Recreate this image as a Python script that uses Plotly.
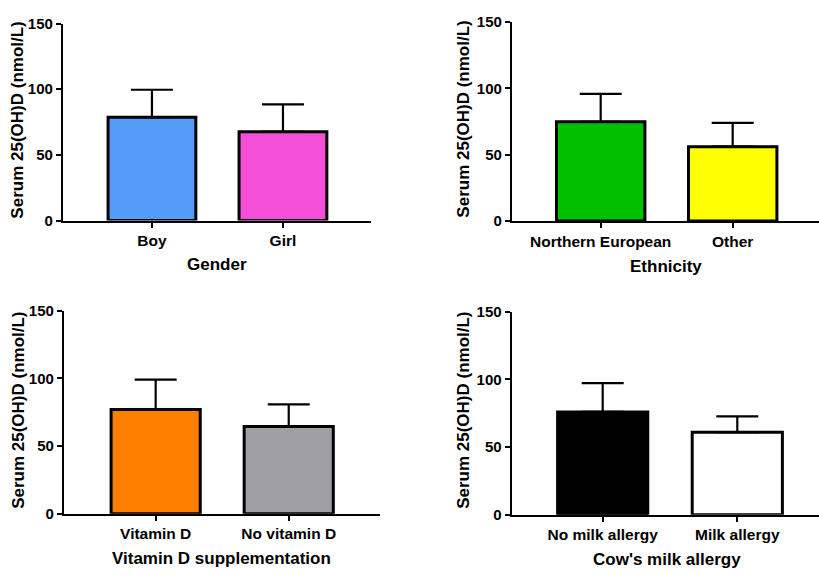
import plotly.graph_objects as go

W, H = 819, 580

# ---- data ----
gender_cats = ["Boy", "Girl"]
gender_means = [78.7, 67.6]
gender_sd = [20.9, 20.9]

ethnicity_cats = ["Northern European", "Other"]
ethnicity_means = [74.9, 56.1]
ethnicity_sd = [21.0, 18.0]

vitd_cats = ["Vitamin D", "No vitamin D"]
vitd_means = [76.9, 64.5]
vitd_sd = [22.2, 16.2]

milk_cats = ["No milk allergy", "Milk allergy"]
milk_means = [75.9, 60.9]
milk_sd = [21.3, 11.7]

y_ticks = [0, 50, 100, 150]
y_title = "Serum 25(OH)D (nmol/L)"

panels = [
    dict(cats=gender_cats, means=gender_means, sd=gender_sd, colors=["#559CF8", "#F44FD8"],
         xtitle="Gender", px=(63, 371), py=(15, 218), xr=(-0.679, 1.672), xt=(217, 263), yt=(18, 115)),
    dict(cats=ethnicity_cats, means=ethnicity_means, sd=ethnicity_sd, colors=["#00C000", "#FFFF00"],
         xtitle="Ethnicity", px=(512, 819), py=(13.5, 218.5), xr=(-0.672, 1.654), xt=(666, 265), yt=(464, 114)),
    dict(cats=vitd_cats, means=vitd_means, sd=vitd_sd, colors=["#FF8000", "#A0A0A4"],
         xtitle="Vitamin D supplementation", px=(64, 380), py=(310.7, 520), xr=(-0.689, 1.686), xt=(222, 566), yt=(19, 414)),
    dict(cats=milk_cats, means=milk_means, sd=milk_sd, colors=["#000000", "#FFFFFF"],
         xtitle="Cow's milk allergy", px=(511.7, 819), py=(311.7, 521), xr=(-0.676, 1.607), xt=(667, 567), yt=(464, 414)),
]

FONT = "Liberation Sans, Arial, sans-serif"

fig = go.Figure()
layout = dict(
    width=W, height=H, margin=dict(l=0, r=0, t=0, b=0),
    paper_bgcolor="white", plot_bgcolor="white", showlegend=False,
    font=dict(family=FONT, color="black", size=15, weight="bold"),
    annotations=[],
)

for i, p in enumerate(panels):
    n = i + 1
    xa = "x" if n == 1 else f"x{n}"
    ya = "y" if n == 1 else f"y{n}"
    fig.add_trace(go.Bar(
        x=list(range(len(p["cats"]))), y=p["means"],
        xaxis=xa, yaxis=ya, width=0.67,
        marker=dict(color=p["colors"], line=dict(color="black", width=3)),
        error_y=dict(type="data", array=p["sd"], symmetric=False,
                     arrayminus=[0] * len(p["sd"]), color="black", thickness=2.2, width=21),
        hoverinfo="skip",
    ))
    xd = [p["px"][0] / W, min(p["px"][1] / W, 1.0)]
    yd = [1 - p["py"][1] / H, 1 - p["py"][0] / H]
    layout[f"xaxis{'' if n == 1 else n}"] = dict(
        domain=xd, anchor=ya, range=list(p["xr"]),
        tickmode="array", tickvals=list(range(len(p["cats"]))), ticktext=p["cats"],
        showline=True, linecolor="black", linewidth=2.2, ticks="outside", ticklen=5,
        tickwidth=2, tickcolor="black", showgrid=False, zeroline=False,
        tickfont=dict(family=FONT, size=15.5, weight="bold"), fixedrange=True,
    )
    layout[f"yaxis{'' if n == 1 else n}"] = dict(
        domain=yd, anchor=xa, range=[0, 150], tickvals=y_ticks,
        showline=True, linecolor="black", linewidth=2.2, ticks="outside", ticklen=5,
        tickwidth=2, tickcolor="black", showgrid=False, zeroline=False,
        tickfont=dict(family=FONT, size=15, weight="bold"), fixedrange=True,
    )
    layout["annotations"].append(dict(
        text=p["xtitle"], xref="paper", yref="paper",
        x=p["xt"][0] / W, y=1 - p["xt"][1] / H, xanchor="center", yanchor="middle",
        showarrow=False, font=dict(family=FONT, size=17, weight="bold"),
    ))
    layout["annotations"].append(dict(
        text=y_title, xref="paper", yref="paper", textangle=-90,
        x=p["yt"][0] / W, y=1 - p["yt"][1] / H, xanchor="center", yanchor="middle",
        showarrow=False, font=dict(family=FONT, size=17, weight="bold"),
    ))

fig.update_layout(**layout)

post = """
document.documentElement.style.margin='0';
document.body.style.margin='0';
document.body.style.overflow='hidden';
"""
fig.write_html("out.html", config={"displayModeBar": False}, post_script=post)
